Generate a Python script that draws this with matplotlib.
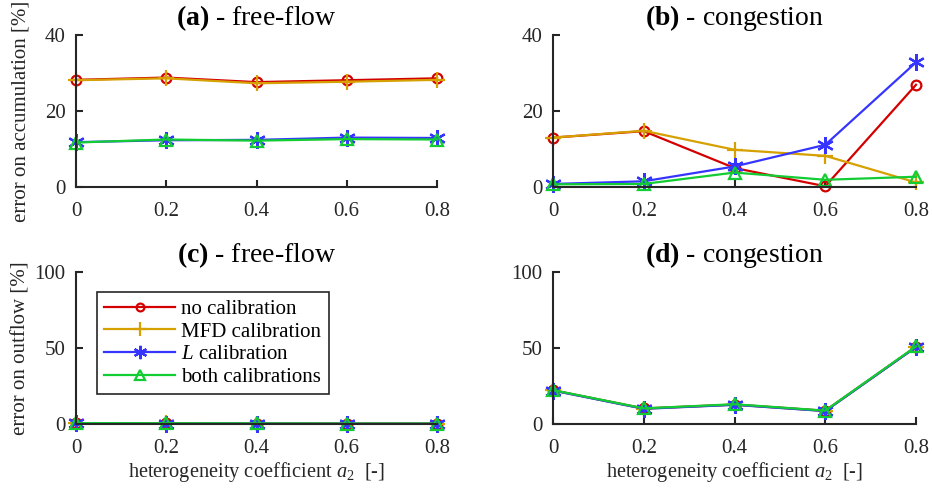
import numpy as np
import matplotlib.pyplot as plt

plt.rcParams['font.family'] = 'Liberation Serif'
plt.rcParams['mathtext.fontset'] = 'custom'
plt.rcParams['mathtext.rm'] = 'Liberation Serif'
plt.rcParams['mathtext.it'] = 'Liberation Serif:italic'
plt.rcParams['mathtext.bf'] = 'Liberation Serif:bold'

a2 = [0, 0.2, 0.4, 0.6, 0.8]
labels = ['no calibration', 'MFD calibration', r'$L$ calibration', 'both calibrations']

# (a) accumulation error, free-flow
acc_ff_none = [28.2, 28.8, 27.6, 28.1, 28.6]
acc_ff_mfd = [28.1, 28.6, 27.3, 27.7, 28.2]
acc_ff_L = [11.8, 12.3, 12.4, 13.0, 12.9]
acc_ff_both = [11.7, 12.5, 12.2, 12.6, 12.5]

# (b) accumulation error, congestion
acc_cg_none = [13.0, 14.7, 5.0, 0.2, 26.9]
acc_cg_mfd = [13.0, 14.8, 9.8, 8.2, 1.2]
acc_cg_L = [0.8, 1.5, 5.4, 11.1, 32.8]
acc_cg_both = [0.7, 0.8, 3.8, 1.9, 2.7]

# (c) outflow error, free-flow
out_ff_none = [0.5, 0.4, 0.3, 0.2, 0.2]
out_ff_mfd = [0.5, 0.4, 0.3, 0.2, 0.2]
out_ff_L = [0.4, 0.3, 0.3, 0.2, 0.2]
out_ff_both = [0.6, 0.5, 0.4, 0.3, 0.3]

# (d) outflow error, congestion
out_cg_none = [22.2, 10.2, 12.8, 8.7, 50.8]
out_cg_mfd = [22.1, 10.1, 12.7, 8.6, 50.7]
out_cg_L = [22.0, 10.0, 12.6, 8.5, 50.6]
out_cg_both = [22.3, 10.3, 13.0, 8.8, 51.0]

colors = ['#d40000', '#d6a100', '#3535ff', '#12cc33']
markers = ['o', '+', (6, 2, 0), '^']
msizes = [7, 12, 12, 9]

fig = plt.figure(figsize=(9.32, 4.88), dpi=100)
W, H = 932.0, 488.0
def add(x0, x1, ytop, ybot):
    return fig.add_axes([x0 / W, 1 - ybot / H, (x1 - x0) / W, (ybot - ytop) / H])

ax_a = add(76, 437, 35, 187)
ax_b = add(553, 916, 35, 187)
ax_c = add(76, 437, 272, 424)
ax_d = add(553, 916, 272, 424)

panels = [
    (ax_a, [acc_ff_none, acc_ff_mfd, acc_ff_L, acc_ff_both], 'a', 'free-flow', 40),
    (ax_b, [acc_cg_none, acc_cg_mfd, acc_cg_L, acc_cg_both], 'b', 'congestion', 40),
    (ax_c, [out_ff_none, out_ff_mfd, out_ff_L, out_ff_both], 'c', 'free-flow', 100),
    (ax_d, [out_cg_none, out_cg_mfd, out_cg_L, out_cg_both], 'd', 'congestion', 100),
]

for ax, series, letter, name, ymax in panels:
    for s, c, m, ms, lab in zip(series, colors, markers, msizes, labels):
        ax.plot(a2, s, color=c, marker=m, markersize=ms, markerfacecolor='none',
                markeredgewidth=1.6, linewidth=1.6, label=lab, clip_on=False)
    ax.set_xlim(0, 0.8)
    ax.set_ylim(0, ymax)
    ax.set_xticks(a2)
    ax.set_xticklabels(['0', '0.2', '0.4', '0.6', '0.8'])
    ax.set_yticks([0, ymax / 2, ymax])
    ax.set_yticklabels(['0', str(int(ymax / 2)), str(ymax)])
    for sp in ['top', 'right']:
        ax.spines[sp].set_visible(False)
    for sp in ['left', 'bottom']:
        ax.spines[sp].set_linewidth(1.5)
        ax.spines[sp].set_color('#262626')
    ax.tick_params(direction='in', length=5, width=1.5, colors='#262626',
                   labelsize=15)
    ax.tick_params(axis='x', pad=11)
    ax.tick_params(axis='y', pad=7.5)
    ax.set_title(r'$\mathbf{(%s)}$ - %s' % (letter, name), fontsize=20, pad=7)

ax_a.set_ylabel('error on accumulation [%]', fontsize=15, color='#262626')
ax_c.set_ylabel('error on outflow [%]', fontsize=15, color='#262626')
for ax in [ax_a, ax_c]:
    ax.yaxis.set_label_coords((31 - 76) / 361.0, 0.5)
for ax in [ax_c, ax_d]:
    ax.set_xlabel(r'heterogeneity coefficient $a_2$  [-]', fontsize=14.7,
                  color='#262626', labelpad=1)

leg = ax_c.legend(loc='upper left', bbox_to_anchor=(0.058, 0.868), borderaxespad=0,
                  fontsize=15, frameon=True, fancybox=False, edgecolor='#262626',
                  framealpha=1, handlelength=3.4, borderpad=0.35, labelspacing=0.15,
                  handletextpad=0.3, markerscale=0.8)
leg.get_frame().set_linewidth(1.2)

fig.savefig('out.png', dpi=100)
